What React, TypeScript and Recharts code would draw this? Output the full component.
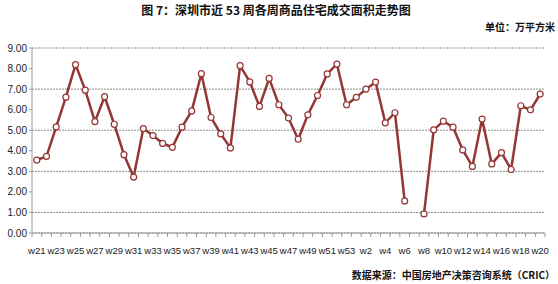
import { LineChart, Line, XAxis, YAxis, CartesianGrid } from 'recharts'

// 53 weeks: w21 of last year through w20 of this year
const weeks = [
  'w21', 'w22', 'w23', 'w24', 'w25', 'w26', 'w27', 'w28', 'w29', 'w30',
  'w31', 'w32', 'w33', 'w34', 'w35', 'w36', 'w37', 'w38', 'w39', 'w40',
  'w41', 'w42', 'w43', 'w44', 'w45', 'w46', 'w47', 'w48', 'w49', 'w50',
  'w51', 'w52', 'w53', 'w1', 'w2', 'w3', 'w4', 'w5', 'w6', 'w7',
  'w8', 'w9', 'w10', 'w11', 'w12', 'w13', 'w14', 'w15', 'w16', 'w17',
  'w18', 'w19', 'w20',
]

// 万平方米; w7 has no data (line breaks there)
const area: (number | null)[] = [
  3.55, 3.73, 5.16, 6.61, 8.19, 6.95, 5.42, 6.63, 5.29, 3.81,
  2.72, 5.08, 4.74, 4.36, 4.17, 5.15, 5.94, 7.75, 5.62, 4.82,
  4.14, 8.14, 7.35, 6.16, 7.52, 6.24, 5.59, 4.56, 5.75, 6.69,
  7.74, 8.22, 6.24, 6.60, 7.00, 7.34, 5.36, 5.85, 1.56, null,
  0.93, 5.02, 5.44, 5.15, 4.04, 3.24, 5.54, 3.36, 3.91, 3.09,
  6.19, 5.99, 6.76,
]

const yTicks = [0, 1, 2, 3, 4, 5, 6, 7, 8, 9]

const data = weeks.map((week, i) => ({ week, value: area[i] }))

const W = 558
const H = 284
const MARGIN = { top: 48, right: 13, left: 0, bottom: 21 }
const Y_AXIS_W = 32
const X_AXIS_H = 30
const AXIS_Y = H - MARGIN.bottom - X_AXIS_H
const BAND = (W - MARGIN.left - MARGIN.right - Y_AXIS_W) / weeks.length

const RED = '#943634'
const AXIS = '#9a9a9a'
const FONT = '"Liberation Sans", Arial, sans-serif'
const CJK = '"Noto Sans CJK SC", sans-serif'

// tick marks sit between categories, labels on every other week
function WeekTick(props: any) {
  const { x, index, payload } = props
  const left = x - BAND / 2
  return (
    <g>
      <line x1={left} x2={left} y1={AXIS_Y} y2={AXIS_Y + 4} stroke={AXIS} />
      {index === weeks.length - 1 && (
        <line x1={x + BAND / 2} x2={x + BAND / 2} y1={AXIS_Y} y2={AXIS_Y + 4} stroke={AXIS} />
      )}
      {index % 2 === 0 && (
        <text x={x} y={AXIS_Y + 21} textAnchor="middle" fontSize={9.5} fill="#222" fontFamily={FONT}>
          {payload.value}
        </text>
      )}
    </g>
  )
}

export default function App() {
  return (
    <div style={{ position: 'fixed', left: 0, top: 0, width: W, height: H, background: '#fff' }}>
      <div style={{
        position: 'absolute', top: 1, left: 0, width: W - 6, textAlign: 'center',
        fontFamily: CJK, fontWeight: 700, fontSize: 12, color: '#111',
      }}>
        图 7：深圳市近 53 周各周商品住宅成交面积走势图
      </div>
      <div style={{
        position: 'absolute', top: 19, right: 3,
        fontFamily: CJK, fontWeight: 700, fontSize: 10, color: '#111',
      }}>
        单位：万平方米
      </div>

      <LineChart width={W} height={H} data={data} margin={MARGIN}>
        <CartesianGrid vertical={false} stroke="#8c8c8c" strokeDasharray="2 1" />
        <XAxis
          dataKey="week"
          interval={0}
          height={X_AXIS_H}
          padding={{ left: BAND / 2, right: BAND / 2 }}
          tickLine={false}
          axisLine={{ stroke: AXIS }}
          tick={<WeekTick />}
        />
        <YAxis
          domain={[0, 9]}
          ticks={yTicks}
          width={Y_AXIS_W}
          tickSize={3}
          tickFormatter={(v: number) => v.toFixed(2)}
          axisLine={{ stroke: AXIS }}
          tickLine={{ stroke: AXIS }}
          tick={{ fontSize: 10, fill: '#222', fontFamily: FONT }}
        />
        <Line
          type="linear"
          dataKey="value"
          stroke={RED}
          strokeWidth={2.5}
          dot={{ r: 3, fill: '#fff', stroke: RED, strokeWidth: 1.2 }}
          isAnimationActive={false}
        />
      </LineChart>

      <div style={{
        position: 'absolute', top: 267, right: 3,
        fontFamily: CJK, fontWeight: 700, fontSize: 10, color: '#111',
      }}>
        数据来源：中国房地产决策咨询系统（CRIC）
      </div>
    </div>
  )
}
